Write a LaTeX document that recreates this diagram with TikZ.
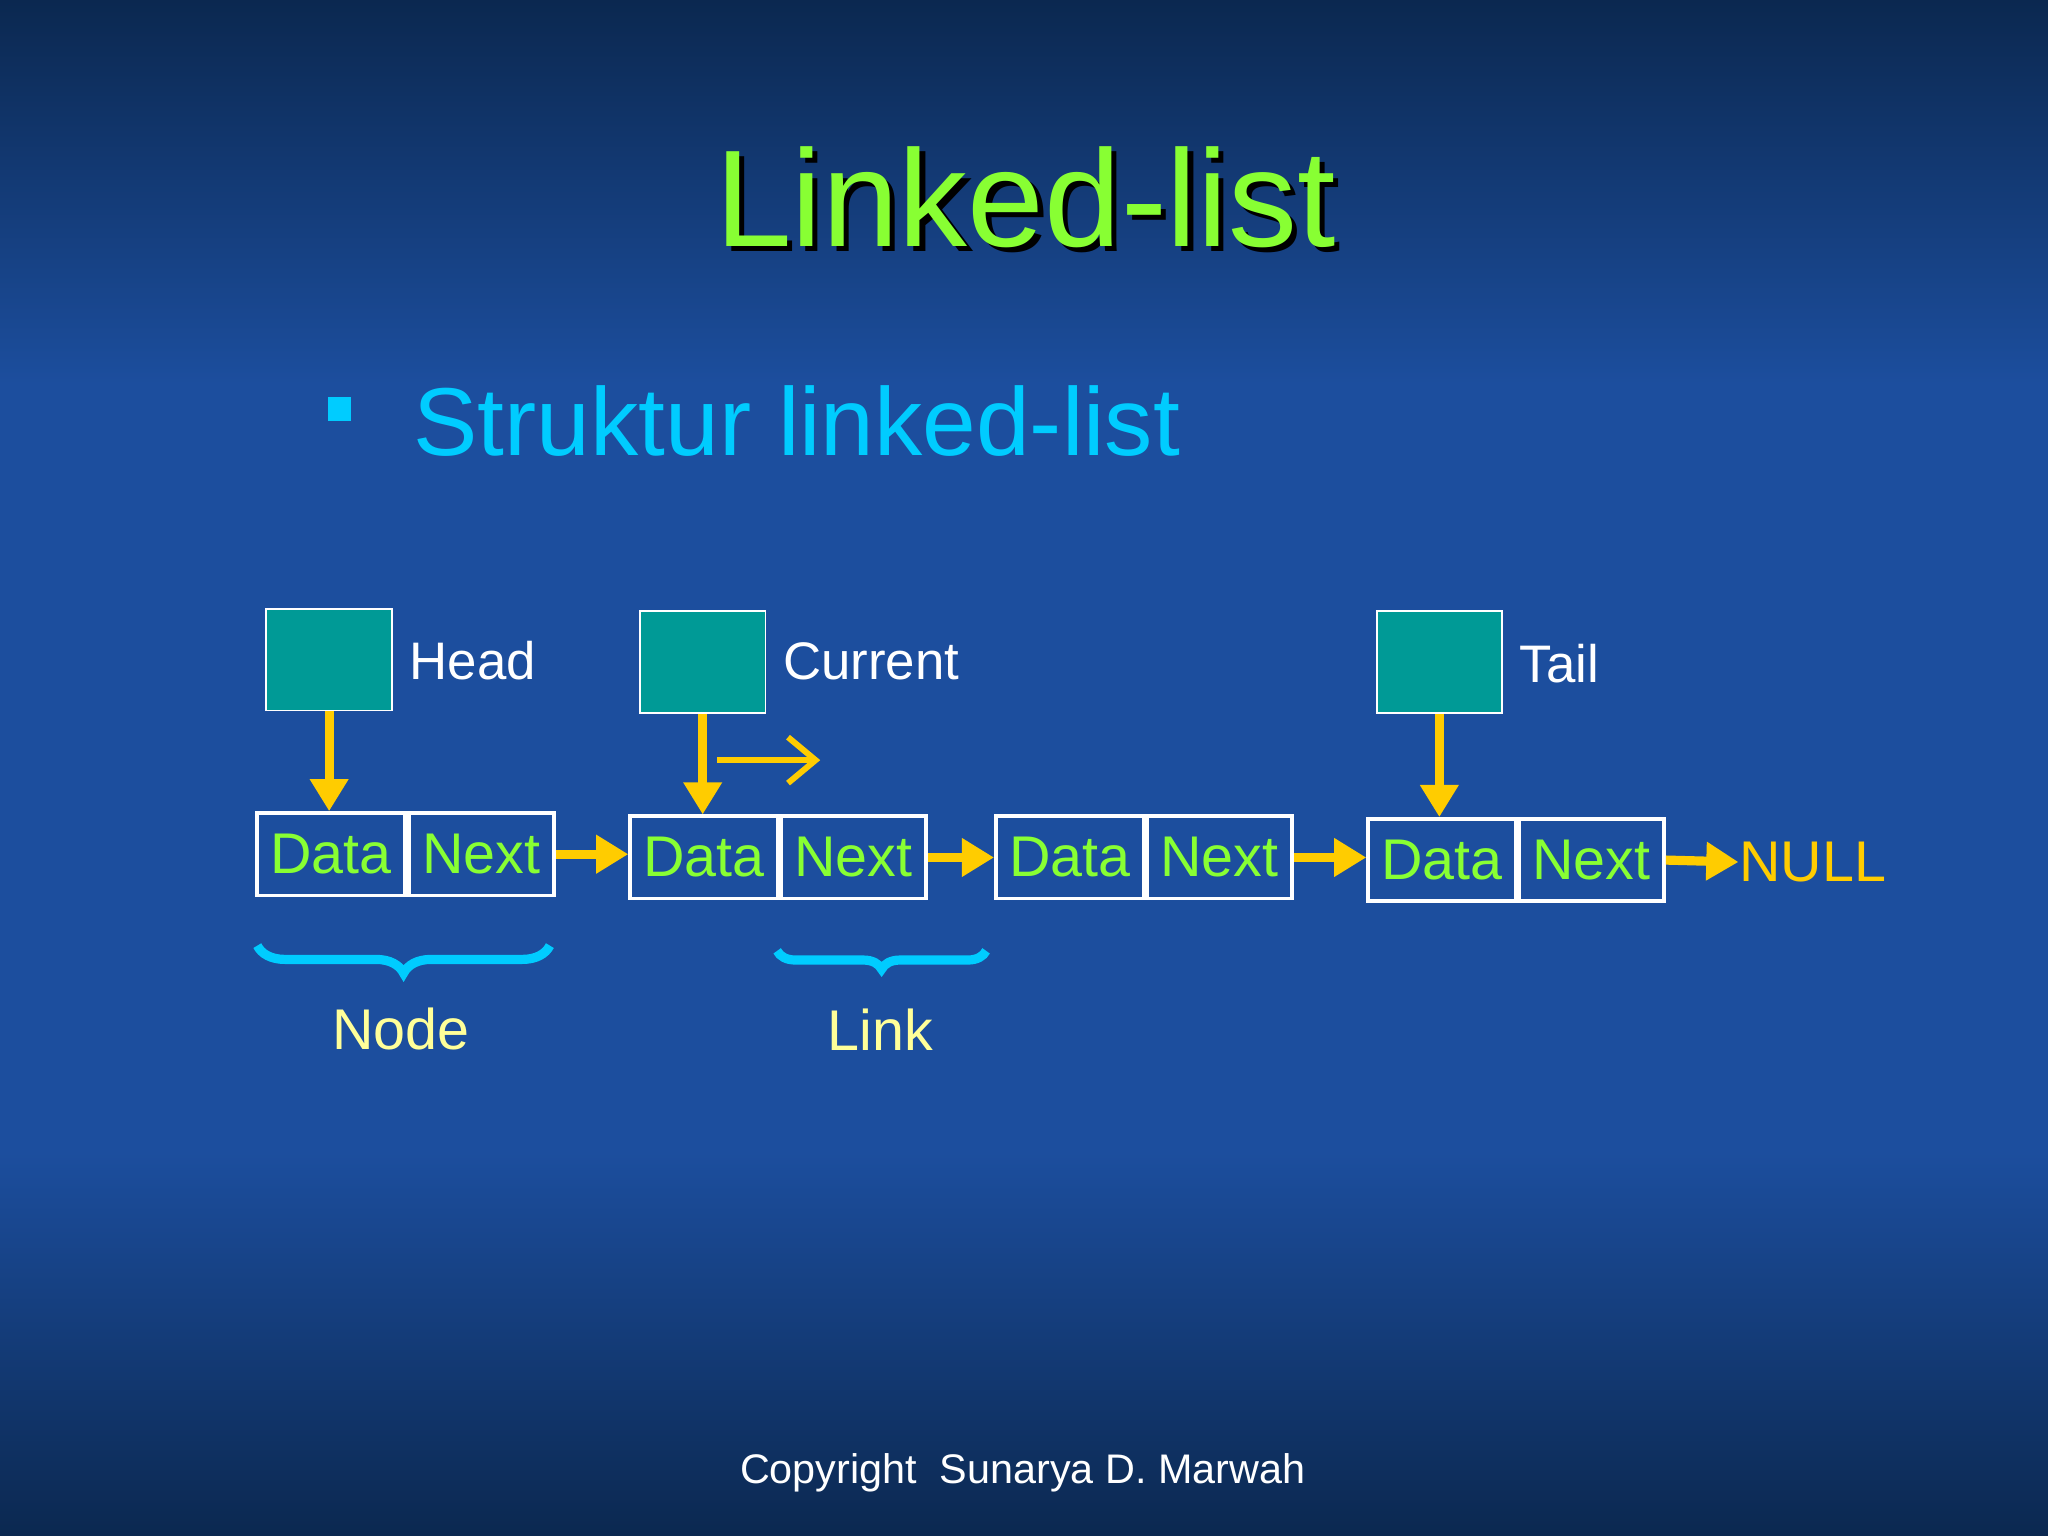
\documentclass[tikz,border=0pt]{standalone}
\usepackage{fontspec}
\setmainfont{Liberation Sans}
\usetikzlibrary{arrows.meta,decorations.pathreplacing,calc}
\definecolor{bgtop}{HTML}{0B2850}
\definecolor{bgmid}{HTML}{1C4E9E}
\definecolor{teal}{HTML}{009A96}
\definecolor{lgreen}{HTML}{88FF33}
\definecolor{cyanT}{HTML}{00CCFF}
\definecolor{yel}{HTML}{FFCC00}
\definecolor{lyel}{HTML}{FFFF99}
\tikzset{
 ptr/.style={draw=white,fill=teal,minimum width=0.96cm,minimum height=0.78cm,inner sep=0pt},
 cell/.style={draw=white,line width=0.8pt,minimum width=1.13cm,minimum height=0.63cm,inner sep=0pt,text=lgreen,font=\fontsize{12.5}{14}\selectfont},
 lab/.style={text=white,font=\fontsize{11.5}{13}\selectfont,anchor=west,inner sep=0pt},
 yarr/.style={draw=yel,line width=2pt,-{Triangle[length=7pt,width=8pt]}},
 br/.style={draw=cyanT,line width=2pt,decorate,decoration={brace,mirror,amplitude=6pt}}
}
\begin{document}
\begin{tikzpicture}[x=0.01cm,y=-0.01cm]
\shade[top color=bgtop,bottom color=bgmid,middle color=bgmid] (0,0) rectangle (1568,588);
\shade[top color=bgmid,bottom color=bgtop,middle color=bgmid] (0,588) rectangle (1568,1176);
\useasboundingbox (0,0) rectangle (1568,1176);
% title
\node[text=black,font=\fontsize{30}{34}\selectfont] at (789,155) {Linked-list};
\node (title) [text=lgreen,font=\fontsize{30}{34}\selectfont] at (785,151) {Linked-list};
\node (bul) [fill=cyanT,minimum size=0.18cm,inner sep=0pt] at (260,313) {};
\node (sub) [anchor=west,inner sep=0pt,text=cyanT,font=\fontsize{21}{24}\selectfont] at (316,322) {Struktur linked-list};
% pointers
\node (head) [ptr] at (252,505) {};
\node (cur) [ptr] at (538,507) {};
\node (tail) [ptr] at (1102,507) {};
\node (lh) [lab] at (313,506) {Head};
\node (lc) [lab] at (599,506) {Current};
\node (lt) [lab] at (1163,508) {Tail};
% cells
\node (d1) [cell] at (253.5,654) {Data};
\node (n1) [cell,minimum width=1.11cm] at (368.5,654) {Next};
\node (d2) [cell] at (539,656.5) {Data};
\node (n2) [cell,minimum width=1.11cm] at (653.5,656.5) {Next};
\node (d3) [cell] at (819,656.5) {Data};
\node (n3) [cell,minimum width=1.11cm] at (933.5,656.5) {Next};
\node (d4) [cell] at (1104,658.5) {Data};
\node (n4) [cell,minimum width=1.11cm] at (1218.5,658.5) {Next};
\node (null) [anchor=west,inner sep=0pt,text=yel,font=\fontsize{12.5}{14}\selectfont] at (1331,660) {NULL};
% arrows
\draw[yarr] (n1.east) -- (d2.west|-n1.east);
\draw[yarr] (n2.east) -- (d3.west);
\draw[yarr] (n3.east) -- (d4.west|-n3.east);
\draw[yarr] (n4.east) -- (null.west);
\draw[yarr] (head.south) -- (head.south|-d1.north);
\draw[yarr] (cur.south) -- (cur.south|-d2.north);
\draw[yarr] (tail.south) -- (tail.south|-d4.north);
\coordinate (sa) at (549,582);
\coordinate (sb) at (628,582);
\draw[draw=yel,line width=1.3pt,-{Straight Barb[length=6pt,width=10pt]}] (sa) -- (sb);
% braces
\coordinate (b1a) at (197,724); \coordinate (b1b) at (421,724);
\coordinate (b2a) at (595,728); \coordinate (b2b) at (755,728);
\draw[br] (b1a) -- (b1b);
\draw[br,decoration={amplitude=4pt}] (b2a) -- (b2b);
\node (nl) [text=lyel,font=\fontsize{12.5}{14}\selectfont] at (307,788) {Node};
\node (ll) [text=lyel,font=\fontsize{12.5}{14}\selectfont] at (674,788) {Link};
\node (copy) [text=white,font=\fontsize{9}{11}\selectfont] at (783,1128) {Copyright\ \ Sunarya D. Marwah};
\end{tikzpicture}
\end{document}
